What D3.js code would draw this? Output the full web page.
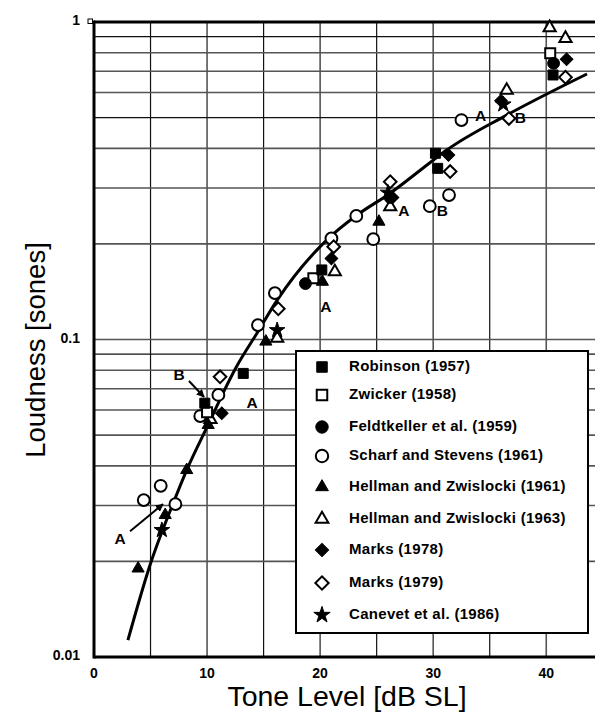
<!DOCTYPE html>
<html><head><meta charset="utf-8">
<script src="https://cdn.jsdelivr.net/npm/d3@7"></script>
<style>body{margin:0;background:#fff}svg{display:block}</style>
</head><body>
<svg id="c" width="595" height="715"></svg>
<script>
// ---- data ----
const xTicks = [0, 10, 20, 30, 40];
const yTickLabels = [{v: 1, t: "1"}, {v: 0.1, t: "0.1"}, {v: 0.01, t: "0.01"}];
const xGrid = [5, 10, 15, 20, 25, 30, 35, 40];
const yGrid = [0.02,0.03,0.04,0.05,0.06,0.07,0.08,0.09,0.1,0.2,0.3,0.4,0.5,0.6,0.7,0.8,0.9];

const curve = [[3.0,0.0113],[5.0,0.0197],[7.0,0.0305],[8.2,0.0388],[10.3,0.0558],[11.4,0.0677],[12.6,0.0821],[14.4,0.1045],[16.2,0.133],[20.6,0.206],[23.3,0.247],[26.2,0.289],[30.0,0.367],[31.2,0.395],[36.5,0.509],[43.6,0.686]];

const robinson = [[9.8,0.063],[13.2,0.0782],[20.15,0.1656],[30.2,0.386],[30.4,0.346],[40.6,0.681]];
const zwicker = [[10.0,0.059],[19.4,0.156],[40.35,0.797]];
const feldtkeller = [[18.7,0.150],[26.2,0.28],[40.65,0.741]];
const scharf = [[4.4,0.0312],[5.9,0.0346],[7.2,0.0303],[9.4,0.0574],[11.0,0.0669],[14.5,0.111],[16.0,0.14],[21.0,0.208],[23.2,0.245],[24.7,0.207],[29.7,0.263],[31.4,0.285],[32.5,0.491]];
const hellman61 = [[3.9,0.019],[6.3,0.028],[8.2,0.0388],[10.1,0.0538],[15.2,0.0985],[20.2,0.152],[25.2,0.235]];
const hellman63 = [[10.3,0.056],[16.2,0.101],[21.3,0.1635],[26.2,0.262],[36.5,0.61],[40.3,0.96],[41.7,0.888]];
const marks78 = [[11.3,0.0586],[21.0,0.180],[26.4,0.28],[31.35,0.381],[36.0,0.565],[41.8,0.763]];
const marks79 = [[11.15,0.0763],[16.3,0.125],[21.2,0.196],[26.2,0.314],[31.5,0.338],[36.7,0.497],[41.7,0.67]];
const canevet = [[6.0,0.0251],[16.2,0.107],[26.0,0.29],[36.2,0.55]];

const seriesNames = ["Robinson (1957)","Zwicker (1958)","Feldtkeller et al. (1959)","Scharf and Stevens (1961)","Hellman and Zwislocki (1961)","Hellman and Zwislocki (1963)","Marks (1978)","Marks (1979)","Canevet et al. (1986)"];
const seriesData = [robinson, zwicker, feldtkeller, scharf, hellman61, hellman63, marks78, marks79, canevet];
const seriesShape = ["square","square","circle","circle","triangle","triangle","diamond","diamond","star"];
const seriesFilled = [true,false,true,false,true,false,true,false,true];

const labels = [{t:"A",x:2.3,y:0.0237},{t:"B",x:7.52,y:0.0778},{t:"A",x:13.98,y:0.0631},{t:"A",x:20.5,y:0.1266},{t:"A",x:27.4,y:0.254},{t:"B",x:30.8,y:0.254},{t:"A",x:34.2,y:0.509},{t:"B",x:37.7,y:0.502}];
const arrows = [{x1:3.19,y1:0.0249,x2:6.1,y2:0.0303},{x1:8.4,y1:0.074,x2:9.73,y2:0.0659}];

// ---- chart ----
const svg = d3.select("#c");
const x = d3.scaleLinear().domain([0, 44.4]).range([94, 596]);
const y = d3.scaleLog().domain([0.01, 1]).range([657, 22]);
const font = "'Liberation Sans', Arial, sans-serif";

const grid = svg.append("g");
grid.selectAll("line.v").data(xGrid).join("line")
  .attr("x1", d => x(d)).attr("x2", d => x(d)).attr("y1", y(1)).attr("y2", y(0.01))
  .attr("stroke", (d,i) => i % 2 ? "#555" : "#111").attr("stroke-width", (d,i) => i % 2 ? 1.6 : 1.2);
grid.selectAll("line.h").data(yGrid).join("line")
  .attr("x1", x(0)).attr("x2", x(44.4)).attr("y1", d => y(d)).attr("y2", d => y(d))
  .attr("stroke", (d,i) => (i===7||i===12||i===16) ? "#111" : "#555").attr("stroke-width", (d,i) => (i===7||i===12||i===16) ? 1.2 : 1.6);

// frame
svg.append("line").attr("x1", x(0)).attr("x2", x(44.4)).attr("y1", y(1)).attr("y2", y(1)).attr("stroke","#000").attr("stroke-width",3);
svg.append("line").attr("x1", x(0)).attr("x2", x(44.4)).attr("y1", y(0.01)).attr("y2", y(0.01)).attr("stroke","#000").attr("stroke-width",3);
svg.append("line").attr("x1", x(0)).attr("x2", x(0)).attr("y1", y(1)-1.5).attr("y2", y(0.01)+1.5).attr("stroke","#000").attr("stroke-width",3);
svg.append("rect").attr("x", x(0)-6).attr("y", y(1)-3).attr("width",4.5).attr("height",4.5).attr("fill","#fff").attr("stroke","#000").attr("stroke-width",1);

// tick labels
svg.selectAll("text.xt").data(xTicks).join("text")
  .attr("x", d => x(d)).attr("y", 678).attr("text-anchor","middle")
  .attr("font-family", font).attr("font-weight","bold").attr("font-size",14).text(d => d);
svg.selectAll("text.yt").data(yTickLabels).join("text")
  .attr("x", 80).attr("y", d => y(d.v) + 3).attr("text-anchor","end")
  .attr("font-family", font).attr("font-weight","bold").attr("font-size",14).text(d => d.t);

// axis titles
svg.append("text").attr("x", 347).attr("y", 706).attr("text-anchor","middle")
  .attr("font-family", font).attr("font-size",28.5).text("Tone Level [dB SL]");
svg.append("text").attr("transform","translate(45,350) rotate(-90)").attr("text-anchor","middle")
  .attr("font-family", font).attr("font-size",27.5).text("Loudness [sones]");

// curve
svg.append("path").datum(curve)
  .attr("d", d3.line().x(d => x(d[0])).y(d => y(d[1])).curve(d3.curveMonotoneX))
  .attr("fill","none").attr("stroke","#000").attr("stroke-width",3);

// symbols
function symPath(shape, scale) {
  const s = scale || 1;
  if (shape === "square") return d3.symbol(d3.symbolSquare, 100*s*s)();
  if (shape === "circle") return d3.symbol(d3.symbolCircle, 110*s*s)();
  if (shape === "triangle") return d3.symbol(d3.symbolTriangle, 64*s*s)();
  if (shape === "diamond") return d3.symbol(d3.symbolSquare, 80*s*s)();
  if (shape === "star") return d3.symbol(d3.symbolStar, 75*s*s)();
}
function drawSym(g, shape, filled, cx, cy, scale) {
  g.append("path").attr("d", symPath(shape, scale))
    .attr("transform", `translate(${cx},${cy})` + (shape === "diamond" ? " rotate(45)" : ""))
    .attr("fill", filled ? "#000" : "#fff").attr("stroke","#000").attr("stroke-width", filled ? 1 : 2);
}

const pts = svg.append("g");
const order = [3,7,5,1,4,0,2,6,8];
order.forEach(i => {
  seriesData[i].forEach(d => drawSym(pts, seriesShape[i], seriesFilled[i], x(d[0]), y(d[1]), 1));
});

// annotations
svg.selectAll("text.lab").data(labels).join("text")
  .attr("x", d => x(d.x)).attr("y", d => y(d.y) + 5.5).attr("text-anchor","middle")
  .attr("font-family", font).attr("font-weight","bold").attr("font-size",15.5).text(d => d.t);
svg.append("defs").append("marker").attr("id","ah").attr("viewBox","0 0 10 10")
  .attr("refX",9).attr("refY",5).attr("markerWidth",4).attr("markerHeight",4).attr("orient","auto")
  .append("path").attr("d","M0,0L10,5L0,10z").attr("fill","#000");
svg.selectAll("line.arr").data(arrows).join("line")
  .attr("x1", d => x(d.x1)).attr("y1", d => y(d.y1)).attr("x2", d => x(d.x2)).attr("y2", d => y(d.y2))
  .attr("stroke","#000").attr("stroke-width",2).attr("marker-end","url(#ah)");

// legend
const lg = svg.append("g");
lg.append("rect").attr("x",296).attr("y",351).attr("width",292).attr("height",282)
  .attr("fill","#fff").attr("stroke","#000").attr("stroke-width",2);
const rowY = [365,393,425,454,485,517,548,581,613];
seriesNames.forEach((n, i) => {
  drawSym(lg, seriesShape[i], seriesFilled[i], 322, rowY[i] + 2, 1.05);
  lg.append("text").attr("x",349).attr("y",rowY[i] + 5.5)
    .attr("font-family", font).attr("font-weight","bold").attr("font-size",15).attr("letter-spacing",0.3).text(n);
});
</script>
</body></html>
